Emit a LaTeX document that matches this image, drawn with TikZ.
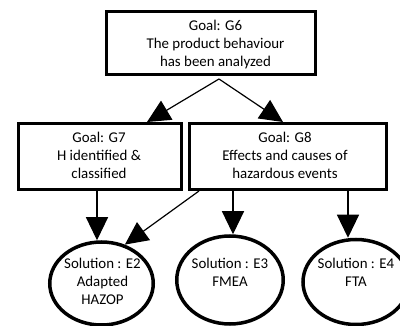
\documentclass[tikz,border=0pt]{standalone}
\usepackage{fontspec}
\setmainfont{Carlito}
\usetikzlibrary{arrows.meta,shapes.geometric}
\newcommand{\nodetext}[3]{\smash{\makebox[0pt]{\hspace*{#1}\raisebox{\dimexpr#2-3.7pt\relax}{\begin{tabular}{@{}c@{}}#3\end{tabular}}}}}
\begin{document}
\begin{tikzpicture}[x=1pt,y=-1pt,
  goal/.style={draw, rectangle, line width=3pt, inner sep=0pt, font=\fontsize{14.9}{18}\selectfont},
  sol/.style={draw, ellipse, line width=3.5pt, inner sep=0pt, font=\fontsize{14.9}{18}\selectfont},
  link/.style={line width=1.2pt, -{Triangle[length=23pt,width=22pt]}}]
\clip (0,0) rectangle (400,326);
\fill[white] (0,0) rectangle (400,326);
\node[goal, minimum width=209pt, minimum height=63pt] (g6) at (211,43) {\nodetext{9pt}{-2pt}{Goal: G6\\The product behaviour\\has been analyzed}};
\node[goal, minimum width=163pt, minimum height=66pt] (g7) at (100,156.5) {\nodetext{-2pt}{-0.5pt}{Goal: G7\\H identified \&\\classified}};
\node[goal, minimum width=197pt, minimum height=66pt] (g8) at (288,156.5) {\nodetext{-6pt}{-0.5pt}{Goal: G8\\Effects and causes of\\hazardous events}};
\node[sol, minimum width=103.5pt, minimum height=83pt] (e2) at (101.5,283.5) {\nodetext{2pt}{0.5pt}{Solution : E2\\Adapted\\HAZOP}};
\node[sol, minimum width=106.5pt, minimum height=88pt] (e3) at (230,280) {\nodetext{0pt}{6pt}{Solution : E3\\FMEA}};
\node[sol, minimum width=106pt, minimum height=85pt] (e4) at (356,282) {\nodetext{0pt}{8pt}{Solution : E4\\FTA}};
\coordinate (split) at (219,79);
\draw[link] (split) -- ([xshift=47pt]g7.north);
\draw[link] (split) -- ([xshift=-5pt]g8.north);
\draw[link] ([xshift=-3pt]g7.south) -- ([xshift=-3pt]g7.south |- e2.north);
\draw[link] ([xshift=11pt]g8.south west) -- (e2.59);
\draw[link] ([xshift=-55pt]g8.south) -- ([xshift=-55pt]g8.south |- e3.north);
\draw[link] ([xshift=60pt]g8.south) -- ([xshift=60pt]g8.south |- e4.north);
\end{tikzpicture}
\end{document}
